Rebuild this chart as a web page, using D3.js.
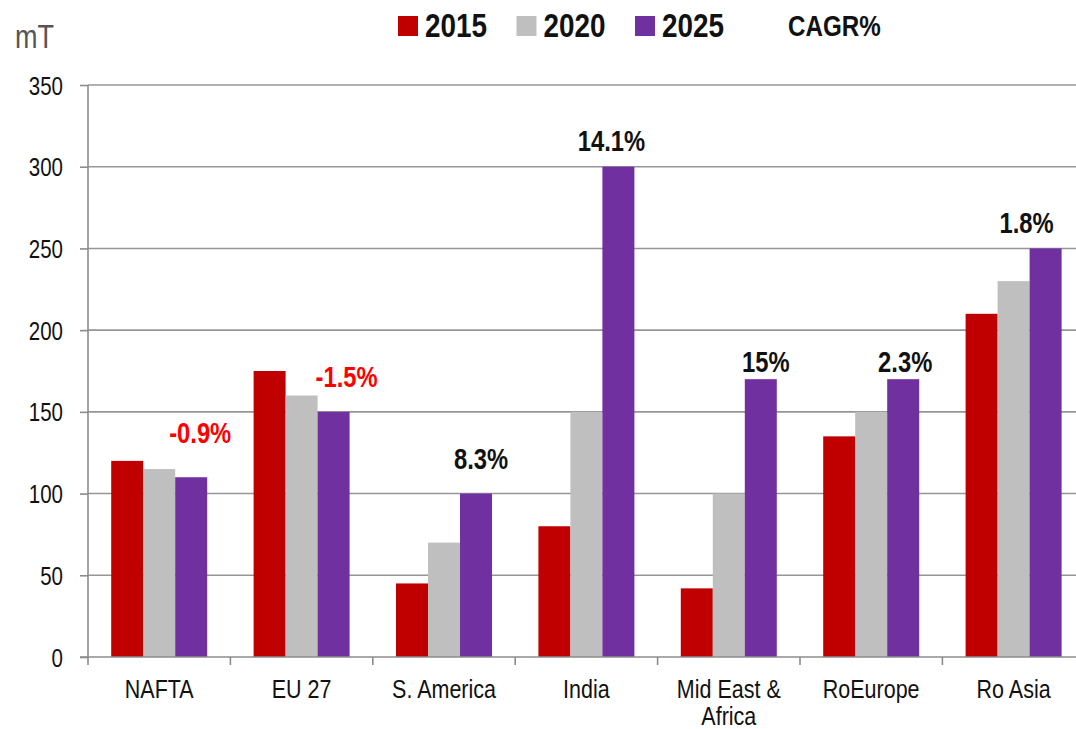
<!DOCTYPE html>
<html>
<head>
<meta charset="utf-8">
<script src="https://cdn.jsdelivr.net/npm/d3@7"></script>
<style>
  body { margin: 0; background: #fff; }
  svg { display: block; font-family: "Liberation Sans", Arial, sans-serif; }
</style>
</head>
<body>
<div id="chart"></div>
<script>
const regions = ["NAFTA", "EU 27", "S. America", "India", "Mid East & Africa", "RoEurope", "Ro Asia"];
const years = ["2015", "2020", "2025"];
const v2015 = [120, 175, 45, 80, 42, 135, 210];
const v2020 = [115, 160, 70, 150, 100, 150, 230];
const v2025 = [110, 150, 100, 300, 170, 170, 250];
const cagr = ["-0.9%", "-1.5%", "8.3%", "14.1%", "15%", "2.3%", "1.8%"];
const yTicks = [0, 50, 100, 150, 200, 250, 300, 350];

// label nudges (px) from the top centre of the 2025 bar
const cagrNudge = [[9, -34], [13, -25], [5, -25], [-7, -16], [5, -7], [2, -7], [-19, -15]];

const width = 1076, height = 729;
const colors = ["#c00000", "#bfbfbf", "#7030a0"];

const series = [v2015, v2020, v2025];
const rows = regions.map(function(r, i) {
    return {region: r, values: series.map(function(s) { return s[i]; }), cagr: cagr[i], neg: cagr[i].startsWith("-")};
});

// fake a narrow face by squeezing text horizontally
function place(x, y, k) {
    return "translate(" + x + "," + y + ") scale(" + (k || 0.82) + ",1)";
}

const svg = d3.select("#chart")
              .append("svg")
              .attr("width", width)
              .attr("height", height);

const x0 = d3.scaleBand()
             .domain(regions)
             .range([88, 88 + 7 * 142.4])
             .padding(0);

const x1 = d3.scaleBand()
             .domain(years)
             .range([0, x0.bandwidth()])
             .paddingInner(0)
             .paddingOuter(0.725);

const y = d3.scaleLinear()
            .domain([0, 350])
            .range([657, 85]);

// gridlines
svg.append("g")
   .selectAll("line")
   .data(yTicks.filter(function(d) { return d > 0; }))
   .enter()
   .append("line")
   .attr("x1", 88)
   .attr("x2", width)
   .attr("y1", function(d) { return y(d); })
   .attr("y2", function(d) { return y(d); })
   .attr("stroke", "#969696")
   .attr("stroke-width", 1.6);

// bars
const group = svg.append("g")
                 .selectAll("g")
                 .data(rows)
                 .enter()
                 .append("g")
                 .attr("transform", function(d) { return "translate(" + x0(d.region) + ",0)"; });

group.selectAll("rect")
     .data(function(d) { return d.values.map(function(v, i) { return {year: years[i], value: v, i: i}; }); })
     .enter()
     .append("rect")
     .attr("x", function(d) { return x1(d.year); })
     .attr("width", x1.bandwidth())
     .attr("y", function(d) { return y(d.value); })
     .attr("height", function(d) { return y(0) - y(d.value); })
     .attr("fill", function(d) { return colors[d.i]; });

// y axis
const yAxis = svg.append("g")
                 .attr("transform", "translate(88,0)")
                 .call(d3.axisLeft(y).tickValues(yTicks).tickSize(8).tickPadding(17));
yAxis.select(".domain").attr("stroke", "#8c8c8c").attr("stroke-width", 1.6).attr("d", "M0,85V657");
yAxis.selectAll(".tick line").attr("stroke", "#8c8c8c").attr("stroke-width", 1.6);
yAxis.selectAll(".tick text")
     .attr("x", null)
     .attr("dy", null)
     .attr("transform", place(-25, 9))
     .attr("font-size", 25)
     .attr("fill", "#111")
     .attr("font-family", null);

// x axis
const xAxisG = svg.append("g").attr("transform", "translate(0,657)");
xAxisG.append("line")
      .attr("x1", 80).attr("x2", width)
      .attr("stroke", "#8c8c8c").attr("stroke-width", 1.6);
xAxisG.selectAll(".xt")
      .data(d3.range(regions.length + 1))
      .enter()
      .append("line")
      .attr("x1", function(i) { return 88 + i * x0.step(); })
      .attr("x2", function(i) { return 88 + i * x0.step(); })
      .attr("y1", 0).attr("y2", 8)
      .attr("stroke", "#8c8c8c").attr("stroke-width", 1.6);

const xLabels = xAxisG.selectAll(".xl")
                      .data(regions)
                      .enter()
                      .append("text")
                      .attr("text-anchor", "middle")
                      .attr("font-size", 25)
                      .attr("fill", "#111")
                      .attr("transform", function(d) { return place(x0(d) + x0.bandwidth() / 2, 41, 0.86); });
xLabels.each(function(d) {
    const lines = d === "Mid East & Africa" ? ["Mid East &", "Africa"] : [d];
    d3.select(this).selectAll("tspan")
      .data(lines)
      .enter()
      .append("tspan")
      .attr("x", 0)
      .attr("dy", function(l, i) { return i === 0 ? 0 : 27; })
      .text(function(l) { return l; });
});

// CAGR labels
svg.append("g")
   .selectAll("text")
   .data(rows)
   .enter()
   .append("text")
   .attr("transform", function(d, i) {
       return place(x0(d.region) + x1("2025") + x1.bandwidth() / 2 + cagrNudge[i][0], y(d.values[2]) + cagrNudge[i][1]);
   })
   .attr("text-anchor", "middle")
   .attr("font-size", 29)
   .attr("font-weight", "bold")
   .attr("fill", function(d) { return d.neg ? "#ff0000" : "#111"; })
   .text(function(d) { return d.cagr; });

// unit label
svg.append("text")
   .attr("transform", place(15, 48))
   .attr("font-size", 33)
   .attr("fill", "#555")
   .text("mT");

// legend
const legend = svg.append("g").attr("transform", "translate(398,0)");
const legendItems = legend.selectAll("g")
                          .data(years)
                          .enter()
                          .append("g")
                          .attr("transform", function(d, i) { return "translate(" + (i * 118.5) + ",0)"; });
legendItems.append("rect")
           .attr("y", 16)
           .attr("width", 20)
           .attr("height", 20)
           .attr("fill", function(d, i) { return colors[i]; });
legendItems.append("text")
           .attr("transform", place(27, 37))
           .attr("font-size", 34)
           .attr("font-weight", "bold")
           .attr("fill", "#111")
           .text(function(d) { return d; });
legend.append("text")
      .attr("transform", place(390, 36))
      .attr("font-size", 29.5)
      .attr("font-weight", "bold")
      .attr("fill", "#111")
      .text("CAGR%");
</script>
</body>
</html>
